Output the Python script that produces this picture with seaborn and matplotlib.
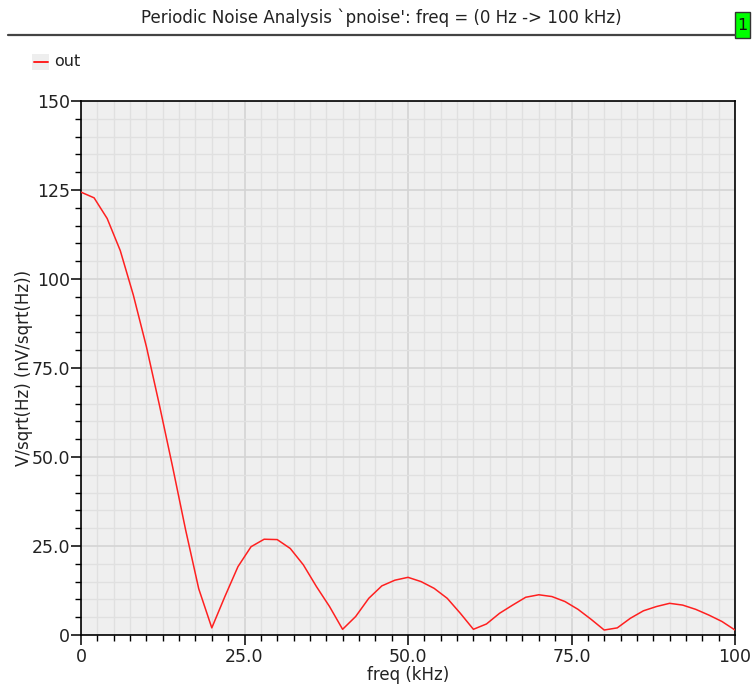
import numpy as np
import pandas as pd
import matplotlib
matplotlib.use("Agg")
import matplotlib.pyplot as plt
from matplotlib.ticker import MultipleLocator, FixedLocator, FixedFormatter
from matplotlib.patches import Rectangle
from matplotlib.lines import Line2D
import seaborn as sns

# ---- data ----
freq_khz = [0, 2, 4, 6, 8, 10, 12, 14, 16, 18, 20, 22, 24, 26, 28, 30, 32, 34, 36, 38,
            40, 42, 44, 46, 48, 50, 52, 54, 56, 58, 60, 62, 64, 66, 68, 70, 72, 74, 76, 78,
            80, 82, 84, 86, 88, 90, 92, 94, 96, 98, 100]
out_nv = [124.4, 122.8, 117.0, 108.0, 95.5, 81.0, 64.5, 47.3, 29.5, 13.0, 2.0, 10.8, 19.2, 24.8,
          26.9, 26.8, 24.3, 19.7, 13.6, 8.0, 1.6, 5.2, 10.3, 13.8, 15.4, 16.2, 15.0, 13.1, 10.3, 6.1,
          1.6, 3.1, 6.1, 8.4, 10.6, 11.3, 10.8, 9.4, 7.2, 4.4, 1.4, 2.0, 4.7, 6.8, 8.0, 8.9, 8.4,
          7.2, 5.6, 3.8, 1.4]
series_name = "out"
title_text = "Periodic Noise Analysis `pnoise': freq = (0 Hz -> 100 kHz)"
x_label = "freq (kHz)"
y_label = "V/sqrt(Hz) (nV/sqrt(Hz))"
x_ticks = [0, 25, 50, 75, 100]
x_ticklabels = ["0", "25.0", "50.0", "75.0", "100"]
y_ticks = [0, 25, 50, 75, 100, 125, 150]
y_ticklabels = ["0", "25.0", "50.0", "75.0", "100", "125", "150"]

df = pd.DataFrame({"freq": freq_khz, "val": out_nv, "series": series_name})

sns.set_style("white")
plt.rcParams['font.family'] = ['DejaVu Sans']

W, H = 752, 688
fig = plt.figure(figsize=(W / 100, H / 100), dpi=100)
fig.patch.set_facecolor("white")
ax = fig.add_axes([81 / W, (H - 635) / H, (735 - 81) / W, (635 - 101) / H])
ax.set_facecolor("#efefef")

sns.lineplot(data=df, x="freq", y="val", color="#ff2020", linewidth=1.1, ax=ax,
             legend=False, zorder=3)

ax.set_xlim(0, 100)
ax.set_ylim(0, 150)
ax.xaxis.set_major_locator(FixedLocator(x_ticks))
ax.xaxis.set_major_formatter(FixedFormatter(x_ticklabels))
ax.yaxis.set_major_locator(FixedLocator(y_ticks))
ax.yaxis.set_major_formatter(FixedFormatter(y_ticklabels))
ax.xaxis.set_minor_locator(MultipleLocator(2.5))
ax.yaxis.set_minor_locator(MultipleLocator(5))

ax.grid(which="major", color="#d4d4d4", linewidth=1.2, zorder=1)
ax.grid(which="minor", color="#e0e0e0", linewidth=1.0, zorder=1)
ax.set_axisbelow(True)

for s in ax.spines.values():
    s.set_color("black")
    s.set_linewidth(1.2)

ax.tick_params(which="major", direction="out", length=7, width=1.1, color="black",
               labelsize=12.5, labelcolor="#222222", pad=2,
               bottom=True, left=True, top=False, right=False)
ax.tick_params(which="minor", direction="out", length=4, width=1.0, color="black",
               bottom=True, left=True, top=False, right=False)
ax.tick_params(axis="y", which="major", pad=1)

ax.set_xlabel(x_label, fontsize=12, color="#222222", labelpad=0)
ax.set_ylabel(y_label, fontsize=12, color="#222222")
ax.yaxis.set_label_coords((24 - 81) / (735 - 81), 0.5)
ax.yaxis.label.set_va("center")

# title and header rule
fig.text(381 / W, 1 - 18 / H, title_text, ha="center", va="center", fontsize=12, color="#222222")
fig.add_artist(Line2D([8 / W, 735 / W], [1 - 35 / H, 1 - 35 / H], color="#444444", linewidth=1.6))
fig.add_artist(Rectangle((735 / W, 1 - 38 / H), 15 / W, 26 / H, facecolor="#00ff00",
                         edgecolor="#333333", linewidth=1.0, transform=fig.transFigure))
fig.text(742.5 / W, 1 - 25 / H, "1", ha="center", va="center", fontsize=11.5, color="#111111")

# legend
fig.add_artist(Rectangle((32 / W, 1 - 70 / H), 17 / W, 16 / H, facecolor="#eeeeee",
                         edgecolor="none", transform=fig.transFigure))
fig.add_artist(Line2D([34 / W, 48 / W], [1 - 62 / H, 1 - 62 / H], color="#ff2020", linewidth=1.4))
fig.text(54 / W, 1 - 62 / H, series_name, ha="left", va="center", fontsize=11.5, color="#222222")

fig.savefig("out.png", dpi=100)
